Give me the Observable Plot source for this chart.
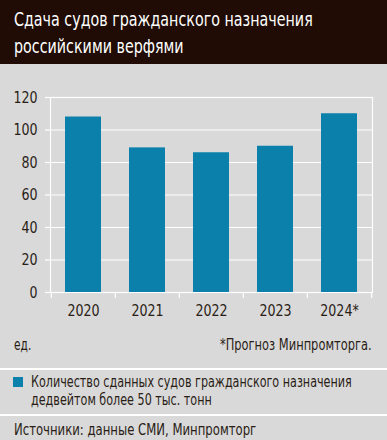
<!DOCTYPE html>
<html><head><meta charset="utf-8">
<script src="https://cdn.jsdelivr.net/npm/d3@7"></script>
<script src="https://cdn.jsdelivr.net/npm/@observablehq/plot@0.6"></script>
<style>
html,body{margin:0;padding:0;}
body{width:387px;height:440px;background:#d9d9d9;position:relative;overflow:hidden;font-family:"DejaVu Sans",sans-serif;color:#2a1d16;}
#hdr{position:absolute;left:0;top:0;width:387px;height:64px;background:#200c05;}
.t{position:absolute;white-space:nowrap;}
#title{left:14px;top:6px;color:#fff;font-size:19.5px;line-height:27px;transform-origin:left top;}
#chart{position:absolute;left:0;top:64px;}
.sep{position:absolute;left:0;width:387px;height:2px;background:#fff;}
#sw{position:absolute;left:13px;top:377px;width:10px;height:10px;background:#0a80ab;}
</style></head><body>
<div id="hdr"><div class="t" id="title">Сдача судов гражданского назначения<br>российскими верфями</div></div>
<div id="chart"></div>
<div class="t" id="unit" style="left:14px;top:336px;font-size:15px;line-height:18px;transform-origin:left top;">ед.</div>
<div class="t" id="note" style="right:15px;top:336px;font-size:15px;line-height:18px;transform-origin:right top;">*Прогноз Минпромторга.</div>
<div class="sep" style="top:368px;"></div>
<div id="sw"></div>
<div class="t" id="leg" style="left:31px;top:374px;font-size:15px;line-height:17.5px;transform-origin:left top;">Количество сданных судов гражданского назначения<br>дедвейтом более 50 тыс. тонн</div>
<div class="sep" style="top:414px;"></div>
<div class="t" id="src" style="left:14px;top:421px;font-size:15px;line-height:18px;transform-origin:left top;">Источники: данные СМИ, Минпромторг</div>
<script>
const years = ["2020", "2021", "2022", "2023", "2024*"];
const counts = [108, 89, 86, 90, 110];
const yTicks = [0, 20, 40, 60, 80, 100, 120];
const data = years.map((y, i) => ({year: y, value: counts[i]}));

const W = 387, H = 262, mL = 50, mR = 15, mT = 33, mB = 34;
const step = (W - mL - mR) / years.length;
const ink = "#2a1d16";

const chart = Plot.plot({
  width: W, height: H,
  marginLeft: mL, marginRight: mR, marginTop: mT, marginBottom: mB,
  style: {background: "transparent", fontFamily: '"DejaVu Sans",sans-serif', fontSize: "16px", color: ink},
  x: {domain: years, type: "band", paddingInner: 0.44, paddingOuter: 0.22},
  y: {domain: [0, 120], label: null},
  marks: [
    Plot.gridY(yTicks, {stroke: "white", strokeOpacity: 1, strokeWidth: 1.2}),
    Plot.frame({stroke: "white", strokeWidth: 1.2}),
    Plot.barY(data, {x: "year", y: "value", fill: "#0a80ab"}),
    Plot.ruleX(years, {x: d => d, dx: -step / 2, stroke: "white", strokeWidth: 1.2, insetTop: H - mT - mB, insetBottom: -6}),
    Plot.ruleX(years.slice(-1), {x: d => d, dx: step / 2, stroke: "white", strokeWidth: 1.2, insetTop: H - mT - mB, insetBottom: -6}),
    Plot.axisY(yTicks, {tickSize: 5, tickPadding: 8, stroke: "white", strokeWidth: 1.2, fill: ink, fontSize: 16, label: null}),
    Plot.axisX({tickSize: 0, tickPadding: 12, fill: ink, fontSize: 16, label: null})
  ]
});
document.getElementById("chart").appendChild(chart);

// narrow the (wide) fallback font to the condensed look of the original
chart.querySelectorAll("text").forEach(t => {
  const len = t.getComputedTextLength();
  if (len > 0) {
    t.setAttribute("textLength", (len * 0.79).toFixed(1));
    t.setAttribute("lengthAdjust", "spacingAndGlyphs");
  }
});
function fit(id, w) {
  const el = document.getElementById(id);
  el.style.transform = `scaleX(${w / el.scrollWidth})`;
}
fit("title", 299);
fit("unit", 17);
fit("note", 152);
fit("leg", 321);
fit("src", 242);
</script>
</body></html>
